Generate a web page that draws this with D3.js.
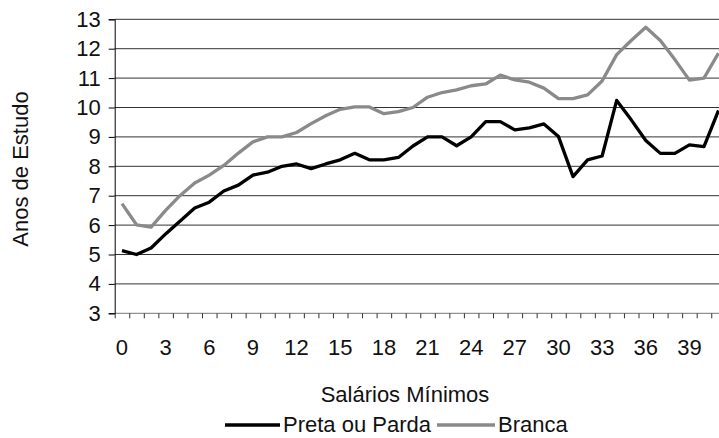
<!DOCTYPE html>
<html lang="pt">
<head>
    <meta charset="UTF-8">
    <title>Anos de Estudo por Salários Mínimos</title>
    <style>
        html, body { margin: 0; padding: 0; background: #fff; overflow: hidden; }
        svg text { font-family: "Liberation Sans", Arial, sans-serif; font-size: 22px; fill: #111; }
    </style>
</head>
<body>
    <div id="chart"></div>

    <script src="https://d3js.org/d3.v7.min.js"></script>
    <script>
        // categorias do eixo x (salários mínimos)
        const categories = d3.range(0, 42);
        const xTickLabels = [0, 3, 6, 9, 12, 15, 18, 21, 24, 27, 30, 33, 36, 39];
        const yTickValues = [3, 4, 5, 6, 7, 8, 9, 10, 11, 12, 13];

        const pretaParda = [5.13, 5.0, 5.22, 5.7, 6.14, 6.58, 6.78, 7.16, 7.36, 7.7,
            7.8, 8.0, 8.08, 7.92, 8.08, 8.22, 8.44, 8.22, 8.22, 8.3,
            8.69, 9.0, 9.0, 8.7, 9.0, 9.52, 9.52, 9.24, 9.31, 9.44,
            9.01, 7.65, 8.22, 8.35, 10.24, 9.58, 8.88, 8.44, 8.44, 8.73,
            8.67, 9.9];
        const branca = [6.73, 6.01, 5.93, 6.5, 7.01, 7.43, 7.7, 8.03, 8.45, 8.83,
            9.0, 9.0, 9.15, 9.45, 9.72, 9.94, 10.02, 10.02, 9.79, 9.86,
            10.0, 10.35, 10.51, 10.6, 10.74, 10.8, 11.1, 10.94, 10.86, 10.66,
            10.3, 10.3, 10.43, 10.9, 11.8, 12.28, 12.73, 12.28, 11.63, 10.93,
            11.0, 11.85];

        const series = [
            { name: "Preta ou Parda", values: pretaParda, color: "#000" },
            { name: "Branca", values: branca, color: "#8a8a8a" }
        ];

        const W = 719, H = 438;
        const plotLeft = 114.7, plotTop = 19.3, plotH = 294, band = 14.55;

        const svg = d3.select("#chart").append("svg")
            .attr("width", W)
            .attr("height", H);

        const x = d3.scaleBand()
            .domain(categories)
            .range([plotLeft, plotLeft + categories.length * band])
            .padding(0);

        const xEdge = d3.scaleLinear()
            .domain([0, categories.length])
            .range(x.range());

        const y = d3.scaleLinear()
            .domain([3, 13])
            .range([plotTop + plotH, plotTop]);

        // linhas de grade
        svg.append("g")
            .selectAll("line")
            .data(yTickValues)
            .join("line")
            .attr("x1", plotLeft)
            .attr("x2", W)
            .attr("y1", d => y(d))
            .attr("y2", d => y(d))
            .attr("stroke", d => d === 3 ? "#777" : "#333")
            .attr("stroke-width", 1);

        // eixo y
        const yAxis = svg.append("g")
            .attr("transform", `translate(${plotLeft},0)`)
            .call(d3.axisLeft(y).tickValues(yTickValues).tickSize(6).tickPadding(8));
        yAxis.select(".domain").attr("stroke", "#000");
        yAxis.selectAll(".tick line").attr("stroke", "#000");
        yAxis.selectAll("text").attr("fill", "#111").style("font-size", "22px");

        // marcas do eixo x entre categorias
        const xTicks = svg.append("g")
            .attr("transform", `translate(0,${y(3)})`)
            .call(d3.axisBottom(xEdge).tickValues(d3.range(0, categories.length + 1))
                .tickFormat("").tickSize(5).tickSizeOuter(0));
        xTicks.select(".domain").remove();
        xTicks.selectAll(".tick line").attr("stroke", "#333");

        // rótulos do eixo x
        const xAxis = svg.append("g")
            .attr("transform", `translate(0,${y(3)})`)
            .call(d3.axisBottom(x).tickValues(xTickLabels).tickSize(0).tickPadding(26));
        xAxis.select(".domain").remove();
        xAxis.selectAll("text").attr("fill", "#111").style("font-size", "22px");

        // linhas das séries
        const line = d3.line()
            .x((d, i) => x(categories[i]) + x.bandwidth() / 2)
            .y(d => y(d));

        svg.append("g")
            .selectAll("path")
            .data(series)
            .join("path")
            .attr("d", d => line(d.values))
            .attr("fill", "none")
            .attr("stroke", d => d.color)
            .attr("stroke-width", 3.3)
            .attr("stroke-linejoin", "round");

        // títulos dos eixos
        svg.append("text")
            .attr("x", 405)
            .attr("y", 401.5)
            .attr("text-anchor", "middle")
            .text("Salários Mínimos");

        svg.append("text")
            .attr("transform", "rotate(-90)")
            .attr("x", -169)
            .attr("y", 28)
            .attr("text-anchor", "middle")
            .text("Anos de Estudo");

        // legenda
        const legendItems = [
            { s: series[0], x0: 225, x1: 280, tx: 283 },
            { s: series[1], x0: 437, x1: 495, tx: 498 }
        ];
        const legend = svg.append("g");
        legend.selectAll("line")
            .data(legendItems)
            .join("line")
            .attr("x1", d => d.x0)
            .attr("x2", d => d.x1)
            .attr("y1", 425)
            .attr("y2", 425)
            .attr("stroke", d => d.s.color)
            .attr("stroke-width", 3.3);
        legend.selectAll("text")
            .data(legendItems)
            .join("text")
            .attr("x", d => d.tx)
            .attr("y", 432)
            .text(d => d.s.name);
    </script>
</body>
</html>
